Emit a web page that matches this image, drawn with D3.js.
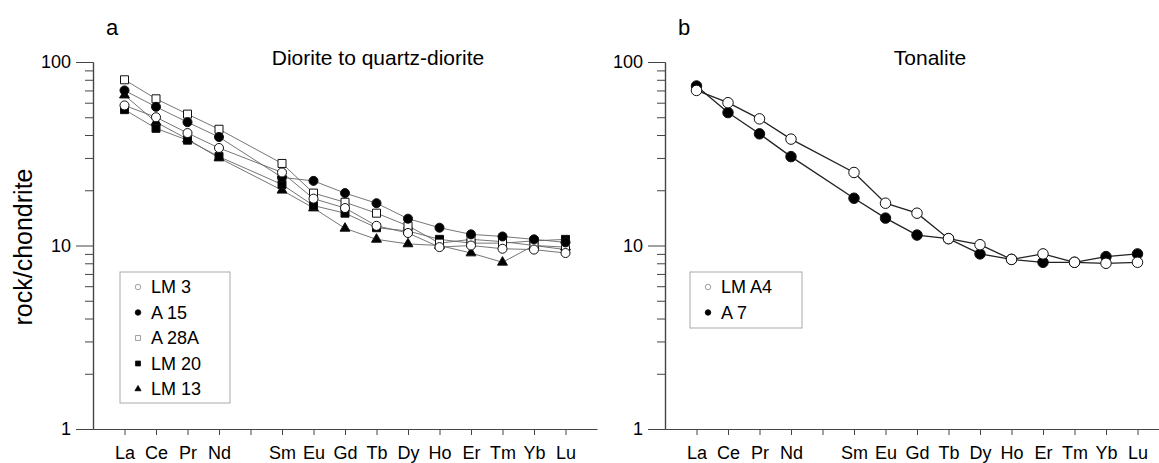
<!DOCTYPE html>
<html>
<head>
<meta charset="utf-8">
<script src="https://d3js.org/d3.v7.min.js"></script>
<style>
body { margin: 0; background: #fff; }
svg { display: block; font-family: 'Liberation Sans', Arial, sans-serif; }
.axis path, .axis line { stroke: #444; }
.axis text { font-size: 18px; fill: #000; }
</style>
</head>
<body>
<svg></svg>
<script>

var width = 1159;
var height = 463;

// REE order (Pm has a tick but no label / no data)
var elements = ["La", "Ce", "Pr", "Nd", "Pm", "Sm", "Eu", "Gd", "Tb", "Dy", "Ho", "Er", "Tm", "Yb", "Lu"];
var measured = ["La", "Ce", "Pr", "Nd", "Sm", "Eu", "Gd", "Tb", "Dy", "Ho", "Er", "Tm", "Yb", "Lu"];

var majorTicks = [1, 10, 100];
var minorTicks = [2, 3, 4, 5, 6, 7, 8, 9, 20, 30, 40, 50, 60, 70, 80, 90];

// panel a: diorite to quartz-diorite
var lm3  = [58, 50, 41, 34, 25, 18, 16, 12.8, 11.7, 9.8, 10, 9.6, 9.5, 9.1];
var a15  = [70, 57, 47, 39, 23.5, 22.5, 19.3, 17, 14, 12.5, 11.5, 11.2, 10.8, 10.4];
var a28a = [80, 63, 52, 43, 28, 19.3, 17.2, 15, 12.8, 10.3, 10.8, 10.5, 10, 9.5];
var lm20 = [55, 43.5, 37.5, 30.5, 21.5, 16.5, 15, 12.5, 12, 10.8, 10.3, 10.3, 10.6, 10.8];
var lm13 = [66, 47, 38, 30, 20, 16, 12.4, 10.8, 10.2, 10, 9.1, 8.1, 10, 9.8];

// panel b: tonalite
var lma4 = [70, 60, 49, 38, 25, 17, 15, 10.9, 10.1, 8.4, 9, 8.1, 8.0, 8.1];
var a7   = [74, 53, 40.6, 30.5, 18.1, 14.1, 11.4, 10.9, 9, 8.4, 8.1, 8.1, 8.7, 9.0];

var svg = d3.select("svg").attr("width", width).attr("height", height);

function toPoints(values) {
	return values.map(function (v, i) { return { el: measured[i], v: v }; });
}

var panels = [
	{
		letter: "a", title: "Diorite to quartz-diorite", titleX: 378,
		x0: 93, x1: 597, lineColor: "#666", lineWidth: 0.9, size: 1,
		series: [
			{ name: "LM 13", values: lm13, symbol: d3.symbolTriangle, fill: "#000" },
			{ name: "LM 20", values: lm20, symbol: d3.symbolSquare, fill: "#000" },
			{ name: "A 28A", values: a28a, symbol: d3.symbolSquare, fill: "#fff" },
			{ name: "A 15", values: a15, symbol: d3.symbolCircle, fill: "#000" },
			{ name: "LM 3", values: lm3, symbol: d3.symbolCircle, fill: "#fff" }
		],
		legendOrder: ["LM 3", "A 15", "A 28A", "LM 20", "LM 13"],
		legend: { x: 120, y: 272, w: 110, h: 131 }
	},
	{
		letter: "b", title: "Tonalite", titleX: 930,
		x0: 665, x1: 1169, lineColor: "#222", lineWidth: 1.3, size: 1.35,
		series: [
			{ name: "A 7", values: a7, symbol: d3.symbolCircle, fill: "#000" },
			{ name: "LM A4", values: lma4, symbol: d3.symbolCircle, fill: "#fff" }
		],
		legendOrder: ["LM A4", "A 7"],
		legend: { x: 690, y: 272, w: 112, h: 56 }
	}
];

panels.forEach(function (p) {
	var g = svg.append("g");

	var x = d3.scaleLinear().domain([-1, elements.length]).range([p.x0, p.x1]);
	var y = d3.scaleLog().domain([1, 100]).range([429, 62]);
	var xOf = function (el) { return x(elements.indexOf(el)); };

	// y axis: minor ticks then major ticks with labels
	g.append("g").attr("class", "axis")
	.attr("transform", "translate(" + p.x0 + ",0)")
	.call(d3.axisLeft(y).tickValues(minorTicks).tickSize(8).tickSizeOuter(0).tickFormat(""));
	g.append("g").attr("class", "axis")
	.attr("transform", "translate(" + p.x0 + ",0)")
	.call(d3.axisLeft(y).tickValues(majorTicks).tickSize(17).tickSizeOuter(0).tickPadding(5).tickFormat(d3.format("d")));

	// x axis
	g.append("g").attr("class", "axis")
	.attr("transform", "translate(0,429)")
	.call(d3.axisBottom(x).tickValues(d3.range(elements.length)).tickSize(6).tickSizeOuter(0).tickPadding(11)
	.tickFormat(function (i) { return elements[i] === "Pm" ? "" : elements[i]; }));

	g.selectAll(".axis path").attr("stroke-width", 1.2);

	// panel letter and title
	g.append("text").attr("x", p.x0 + 13).attr("y", 35)
	.style("font-size", "22px").text(p.letter);
	g.append("text").attr("x", p.titleX).attr("y", 65).attr("text-anchor", "middle")
	.style("font-size", "21px").text(p.title);

	var line = d3.line()
	.x(function (d) { return xOf(d.el); })
	.y(function (d) { return y(d.v); });

	p.series.forEach(function (s) {
		g.append("path").datum(toPoints(s.values))
		.attr("d", line)
		.attr("fill", "none")
		.attr("stroke", p.lineColor)
		.attr("stroke-width", p.lineWidth);
	});

	p.series.forEach(function (s) {
		var sym = d3.symbol().type(s.symbol).size(s.symbol === d3.symbolTriangle ? 42 : 64 * p.size);
		g.selectAll(null).data(toPoints(s.values)).enter().append("path")
		.attr("d", sym)
		.attr("transform", function (d) { return "translate(" + xOf(d.el) + "," + y(d.v) + ")"; })
		.attr("fill", s.fill)
		.attr("stroke", "#111")
		.attr("stroke-width", 1);
	});

	// legend
	var L = p.legend;
	g.append("rect").attr("x", L.x).attr("y", L.y).attr("width", L.w).attr("height", L.h)
	.attr("fill", "#fff").attr("stroke", "#aaa").attr("stroke-width", 1);
	p.legendOrder.forEach(function (name, i) {
		var s = p.series.filter(function (d) { return d.name === name; })[0];
		var yy = L.y + 21 + i * 25.5;
		g.append("path")
		.attr("d", d3.symbol().type(s.symbol).size(s.symbol === d3.symbolTriangle ? 16 : 24))
		.attr("transform", "translate(" + (L.x + 18) + "," + (yy - 6) + ")")
		.attr("fill", s.fill).attr("stroke", s.fill === "#fff" ? "#888" : "#000").attr("stroke-width", 0.8);
		g.append("text").attr("x", L.x + 31).attr("y", yy)
		.style("font-size", "18px").text(name);
	});
});

// shared y label
svg.append("text")
.attr("transform", "translate(32,247) rotate(-90)")
.attr("text-anchor", "middle")
.style("font-size", "25px")
.text("rock/chondrite");

</script>
</body>
</html>
